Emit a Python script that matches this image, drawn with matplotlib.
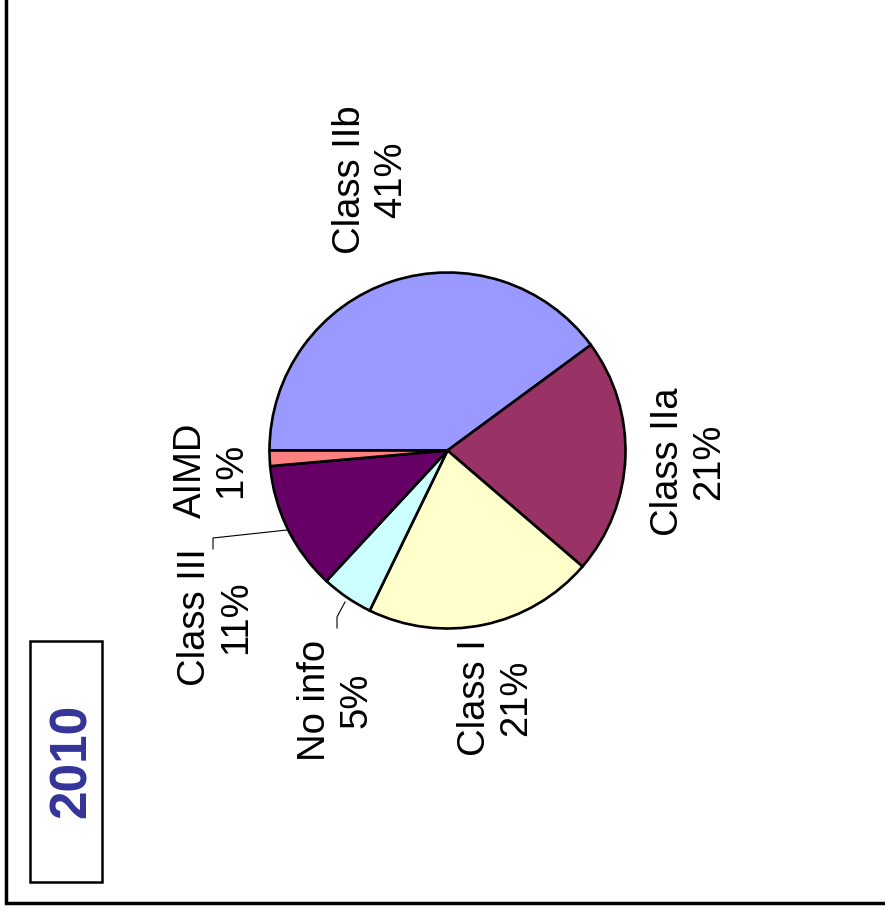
import matplotlib
matplotlib.use("Agg")
import matplotlib.pyplot as plt
from matplotlib.patches import Rectangle

categories = ["Class IIb", "Class IIa", "Class I", "No info", "Class III", "AIMD"]
shares = [39.9, 21.4, 20.9, 4.7, 11.7, 1.4]      # slice sizes as drawn
label_pct = [41, 21, 21, 5, 11, 1]               # percentages as printed
colors = ["#9999FF", "#993366", "#FFFFCC", "#CCFFFF", "#660066", "#FF8080"]
year_label = "2010"

W, H = 885, 911
fig = plt.figure(figsize=(W / 100, H / 100), dpi=100)
ax = fig.add_axes([0, 0, 1, 1])

def Y(y):
    return H - y

cx, cy, r = 447.5, Y(450.5), 178
ax.pie(shares, colors=colors, startangle=180, counterclock=False,
       center=(cx, cy), radius=r,
       wedgeprops=dict(edgecolor="black", linewidth=1.9))
ax.set_xlim(0, W)
ax.set_ylim(0, H)
ax.set_aspect("equal")
ax.axis("off")

font = "Liberation Sans"
label_pos = {
    "Class IIb": (371, 180),
    "Class IIa": (689, 462),
    "Class I": (496, 698),
    "No info": (336, 700),
    "Class III": (216, 617),
    "AIMD": (211, 470),
}
for cat, p in zip(categories, label_pct):
    x, y = label_pos[cat]
    ax.text(x, Y(y), f"{cat}\n{p}%", rotation=90, ha="center", va="center",
            multialignment="center", fontsize=27.5, family=font, linespacing=1.18)

# leader lines
ax.plot([287, 213, 213], [Y(530), Y(538), Y(549)], color="black", lw=0.8)
ax.plot([345, 337, 337], [Y(602), Y(617), Y(628)], color="black", lw=0.8)

# year box
ax.add_patch(Rectangle((30, Y(882)), 72, 241, fill=False, edgecolor="black", lw=1.8))
ax.text(72, Y(761), year_label, rotation=90, ha="center", va="center",
        fontsize=37, fontweight="bold", color="#333399", family=font)

# outer frame (partially visible)
ax.plot([6, 6, W + 5], [H + 5, Y(903), Y(903)], color="black", lw=2.5,
        solid_joinstyle="miter")

fig.savefig("out.png", dpi=100)
